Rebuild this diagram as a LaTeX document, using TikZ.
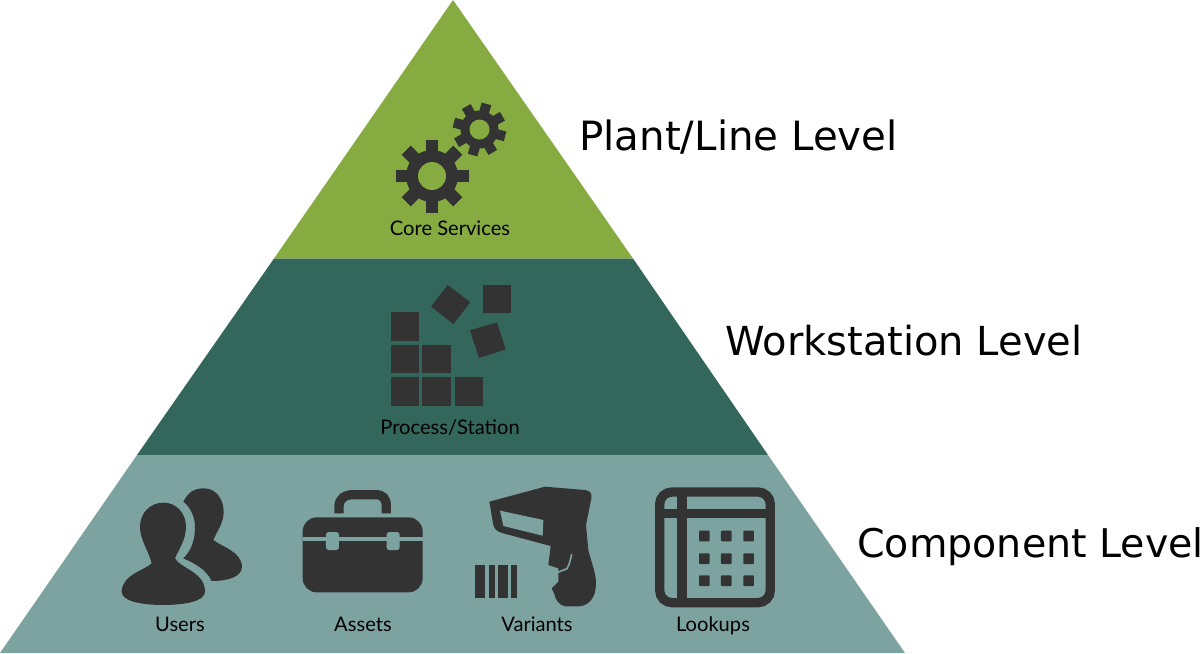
\documentclass[tikz,border=0pt]{standalone}
\usepackage{fontspec}
\setmainfont{Lato}
\newfontfamily\levelfont{DejaVu Sans}
\definecolor{topband}{HTML}{86AC41}
\definecolor{midband}{HTML}{34675C}
\definecolor{lowband}{HTML}{7DA3A1}
\definecolor{icongrey}{HTML}{333333}
\tikzset{
    iconlabel/.style={text=black,anchor=base,inner sep=0pt,font=\fontsize{11.45}{13}\selectfont},
    levellabel/.style={text=black,anchor=base west,inner sep=0pt,font=\levelfont\fontsize{#1}{27}\selectfont},
}
% centre x, centre y, outer, body, hole, turn, tooth width, band
\newcommand{\gearicon}[8]{
    \fill[icongrey] (#1,#2) circle (#4);
    \foreach \a in {0,45,...,315}{
        \draw[icongrey,line width=#7*0.567pt] (#1,#2)--++(\a+#6:#3);
    }
    \fill[#8] (#1,#2) circle (#5);
}
\begin{document}
\begin{tikzpicture}[x=0.02cm,y=-0.02cm]
\useasboundingbox (0,0) rectangle (1202,653);
\fill[topband] (453,0)--(633,258.5)--(274,258.5)--cycle;
\fill[midband] (274,258.5)--(633,258.5)--(768,455)--(137,455)--cycle;
\fill[lowband] (137,455)--(768,455)--(905,653)--(0,653)--cycle;

\gearicon{432}{176}{36.5}{26}{14}{0}{13}{topband}
\gearicon{479.5}{129.5}{26.5}{19}{10}{15}{10}{topband}
\node[iconlabel] (core) at (450,235) {Core Services};

\foreach \x/\y in {390.5/312.3,390.5/345,390.5/377.3,422.3/345,422.3/377.3,455/377.3,483/285}{
    \fill[icongrey] (\x,\y) rectangle ++(28.3,28.2);
}
\begin{scope}[shift={(360,270)},x=0.02cm/3,y=-0.02cm/3]
\fill[icongrey] (263,45)--(331,97)--(280,162)--(213,110)--cycle;
\fill[icongrey] (330,181)--(411,157)--(437,238)--(357,264)--cycle;
\end{scope}
\node[iconlabel] (process) at (450,434) {Process/Station};

\begin{scope}[shift={(100,470)},x=0.02cm/3,y=-0.02cm/3]
\fill[icongrey] (250,95) .. controls (265,65) and (285,55) .. (312,55)
    .. controls (350,55) and (371,90) .. (371,125)
    .. controls (371,160) and (350,185) .. (340,210)
    .. controls (365,230) and (425,245) .. (426,290)
    .. controls (426,322) and (380,333) .. (335,333)
    .. controls (320,300) and (285,280) .. (250,265)
    .. controls (275,240) and (285,210) .. (285,170)
    .. controls (285,140) and (270,110) .. (250,95)--cycle;
\fill[icongrey] (190,98) .. controls (230,98) and (258,130) .. (258,170)
    .. controls (258,210) and (235,240) .. (225,265)
    .. controls (240,295) and (315,305) .. (315,365)
    .. controls (315,395) and (250,405) .. (190,405)
    .. controls (130,405) and (65,395) .. (65,365)
    .. controls (65,315) and (135,300) .. (155,280)
    .. controls (145,240) and (120,210) .. (120,170)
    .. controls (120,130) and (150,98) .. (190,98)--cycle;
\draw[icongrey,line width=28*0.189pt] (717,130)--(717,110)
    .. controls (717,85) and (735,74) .. (760,74)--(825,74)
    .. controls (850,74) and (859,85) .. (859,110)--(859,130);
\fill[icongrey,rounded corners=8pt] (608,142) rectangle (968,367);
\fill[lowband] (608,200) rectangle (968,213);
\foreach \x in {678,860}{
    \fill[lowband,rounded corners=1.5pt] (\x,186) rectangle ++(39,54);
}
\end{scope}
\node[iconlabel] (users) at (180,631) {Users};
\node[iconlabel] (assets) at (363,631) {Assets};

\begin{scope}[shift={(460,470)},x=0.02cm/3,y=-0.02cm/3]
\fill[icongrey] (88,95)--(255,50)--(375,60)
    .. controls (392,62) and (396,72) .. (394,85)
    --(378,165)--(385,240)
    .. controls (395,280) and (408,310) .. (408,340)
    .. controls (408,385) and (385,408) .. (355,409)
    --(315,409)
    .. controls (295,405) and (285,385) .. (283,372)
    --(275,355)--(295,335)--(295,295)--(265,285)--(272,228)--(130,190)
    .. controls (110,185) and (100,175) .. (99,160)
    --(88,95)--cycle;
\fill[lowband] (120,122)--(250,150)--(248,197)--(130,168)--cycle;
\draw[lowband,line width=5*0.189pt] (335,252) .. controls (332,270) and (327,285) .. (321,296)--(293,307);
\foreach \x/\w in {46/30,86/18,114/30,154/18}{
    \fill[icongrey] (\x,284) rectangle ++(\w,100);
}
\draw[icongrey,line width=28*0.189pt,rounded corners=7pt] (599,66) rectangle (931,398);
\fill[icongrey] (652,66) rectangle (680,398);
\fill[icongrey] (599,117) rectangle (931,145);
\foreach \x in {717,783,850}{
    \foreach \y in {182,250,316}{
        \fill[icongrey,rounded corners=0.5pt] (\x,\y) rectangle ++(32,32);
    }
}
\end{scope}
\node[iconlabel] (variants) at (537,631) {Variants};
\node[iconlabel] (lookups) at (713,631) {Lookups};

\node[levellabel=22.95] (plant) at (579,150) {Plant/Line Level};
\node[levellabel=22.75] (station) at (725,355) {Workstation Level};
\node[levellabel=22.5] (component) at (857,557) {Component Level};
\end{tikzpicture}
\end{document}
